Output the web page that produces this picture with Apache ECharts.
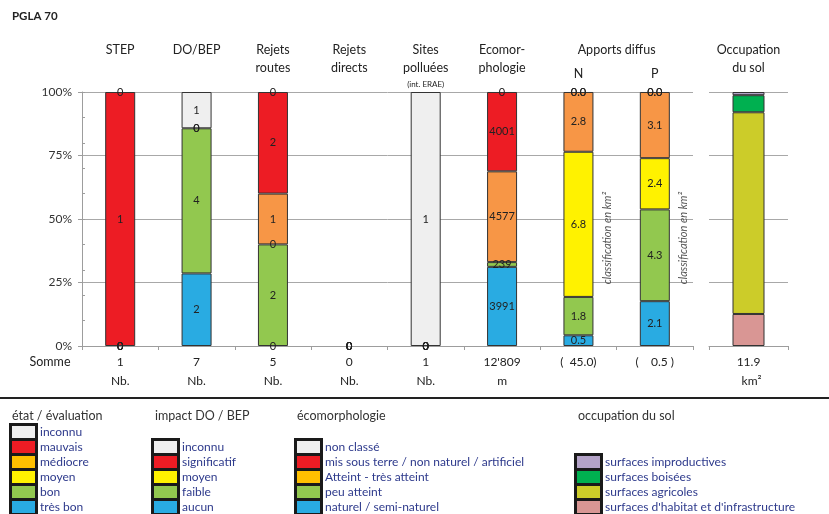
<!DOCTYPE html>
<html>
<head>
<meta charset="utf-8">
<script src="https://cdn.jsdelivr.net/npm/echarts@6/dist/echarts.min.js"></script>
<style>
  html, body { margin: 0; padding: 0; background: #fff; }
  #chart { width: 829px; height: 514px; }
</style>
</head>
<body>
<div id="chart"></div>
<script>
// ---- Données ----
const categories = ['STEP', 'DO/BEP', 'Rejets routes', 'Rejets directs', 'Sites polluées', 'Ecomorphologie', 'N', 'P'];
const titleLines = [['STEP'], ['DO/BEP'], ['Rejets', 'routes'], ['Rejets', 'directs'], ['Sites', 'polluées'], ['Ecomor-', 'phologie'], ['N'], ['P']];

// classes empilées, de bas en haut
const tresBon  = [0, 2, 0, 0, 0, 3991, 0.5, 2.1];
const bon      = [0, 4, 2, 0, 0, 239, 1.8, 4.3];
const moyen    = [0, 0, 0, 0, 0, null, 6.8, 2.4];
const mediocre = [0, null, 1, 0, 0, 4577, 2.8, 3.1];
const mauvais  = [1, 0, 2, 0, 0, 4001, 0.0, 0.0];
const inconnu  = [0, 1, 0, 0, 1, 0, 0.0, 0.0];
const decimals = [0, 0, 0, 0, 0, 0, 1, 1];

const sommeLabels = ['1', '7', '5', '0', '1', "12'809", '(  45.0)', '(    0.5 )'];
const unites = ['Nb.', 'Nb.', 'Nb.', 'Nb.', 'Nb.', 'm', '', ''];

// occupation du sol (km²)
const solCategories = ['Occupation du sol'];
const solHabitat = [1.5];
const solAgricole = [9.45];
const solBoise = [0.8];
const solImproductif = [0.15];
const solSomme = ['11.9'];
const solUnite = ['km²'];

const yTicks = [0, 25, 50, 75, 100];

// ---- Couleurs ----
const C = {
  inconnu: '#EFEFEF', mauvais: '#ED1C24', mediocreBar: '#F79646', mediocreLeg: '#FFC000',
  moyen: '#FFF200', bon: '#92C84F', tresBon: '#29ABE2',
  improductif: '#B3A2C7', boise: '#00B050', agricole: '#CCCC29', habitat: '#D99694'
};

const FONT = 'Lato, "Open Sans", sans-serif';

const classes = [
  { name: 'très bon', data: tresBon, color: C.tresBon },
  { name: 'bon', data: bon, color: C.bon },
  { name: 'moyen', data: moyen, color: C.moyen },
  { name: 'médiocre', data: mediocre, color: C.mediocreBar },
  { name: 'mauvais', data: mauvais, color: C.mauvais },
  { name: 'inconnu', data: inconnu, color: C.inconnu }
];

// totaux par colonne pour l'empilement en pourcentage
const totals = categories.map((_, i) =>
  classes.reduce((s, c) => s + (c.data[i] == null ? 0 : c.data[i]), 0));
const pct = (v, t) => (v == null ? '-' : (t > 0 ? Math.round(v / t * 1e6) / 1e4 : 0));

const solClasses = [
  { name: "surfaces d'habitat", data: solHabitat, color: C.habitat },
  { name: 'surfaces agricoles', data: solAgricole, color: C.agricole },
  { name: 'surfaces boisées', data: solBoise, color: C.boise },
  { name: 'surfaces improductives', data: solImproductif, color: C.improductif }
];
const solTotals = solCategories.map((_, i) => solClasses.reduce((s, c) => s + c.data[i], 0));

const axisGray = '#9d9d9d';

const series = classes.map(c => ({
  name: c.name,
  type: 'bar',
  stack: 'etat',
  xAxisIndex: 0,
  yAxisIndex: 0,
  barWidth: 30,
  clip: false,
  data: c.data.map((v, i) => {
    const p = pct(v, totals[i]);
    // segments vides : pas de contour, seule l'étiquette reste
    return p === 0 ? { value: 0, itemStyle: { borderWidth: 0, opacity: 0 } } : p;
  }),
  itemStyle: { color: c.color, borderColor: '#333', borderWidth: 1 },
  label: {
    show: true,
    position: 'inside',
    fontFamily: FONT,
    fontSize: 11,
    color: '#222',
    opacity: 1,
    formatter: p => {
      const raw = c.data[p.dataIndex];
      return raw == null ? '' : raw.toFixed(decimals[p.dataIndex]);
    }
  },
  emphasis: { disabled: true },
  animation: false
})).concat(solClasses.map(c => ({
  name: c.name,
  type: 'bar',
  stack: 'sol',
  xAxisIndex: 1,
  yAxisIndex: 2,
  barWidth: 32,
  data: c.data.map((v, i) => Math.round(v / solTotals[i] * 1e6) / 1e4),
  itemStyle: { color: c.color, borderColor: '#333', borderWidth: 1 },
  emphasis: { disabled: true },
  animation: false
})));

const chart = echarts.init(document.getElementById('chart'), null, { renderer: 'canvas' });

chart.setOption({
  animation: false,
  grid: [
    { left: 82, top: 92, width: 611, height: 254 },
    { left: 709, top: 92, width: 79, height: 254 }
  ],
  xAxis: [
    {
      type: 'category', gridIndex: 0, data: categories,
      axisLine: { lineStyle: { color: axisGray } },
      axisTick: { show: true, length: 4, lineStyle: { color: axisGray } },
      axisLabel: {
        margin: 7, interval: 0, fontFamily: FONT, fontSize: 12, color: '#222', lineHeight: 19,
        formatter: (v, i) => sommeLabels[i] + (unites[i] ? '\n' + unites[i] : '')
      }
    },
    {
      type: 'category', gridIndex: 1, data: solCategories,
      axisLine: { lineStyle: { color: axisGray } },
      axisTick: { show: true, length: 4, lineStyle: { color: axisGray } },
      axisLabel: {
        margin: 7, fontFamily: FONT, fontSize: 12, color: '#222', lineHeight: 19,
        formatter: (v, i) => solSomme[i] + '\n  ' + solUnite[i]
      }
    }
  ],
  yAxis: [
    {
      type: 'value', gridIndex: 0, min: yTicks[0], max: yTicks[yTicks.length - 1], interval: 25,
      axisLine: { show: true, lineStyle: { color: axisGray } },
      axisTick: { show: true, length: 4, lineStyle: { color: axisGray } },
      axisLabel: { margin: 10, fontFamily: FONT, fontSize: 12, color: '#333', formatter: '{value}%' },
      splitLine: { lineStyle: { color: '#a8a8a8', width: 1 } }
    },
    {
      type: 'value', gridIndex: 0, min: 0, max: 100, interval: 10, position: 'left',
      axisLine: { show: false },
      axisTick: { show: true, inside: true, length: 3, lineStyle: { color: axisGray } },
      axisLabel: { show: false },
      splitLine: { show: false }
    },
    {
      type: 'value', gridIndex: 1, min: 0, max: 100, interval: 25,
      axisLine: { show: false },
      axisTick: { show: false },
      axisLabel: { show: false },
      splitLine: { lineStyle: { color: '#a8a8a8', width: 1 } }
    }
  ],
  series: series
});

// ---- Textes, séparateur et légendes ----
const g = [];
const txt = (x, y, text, opt = {}) => g.push({
  type: 'text', x, y, silent: true, rotation: opt.rotation || 0,
  style: {
    text, fontFamily: FONT, fontSize: opt.size || 12.5, fill: opt.color || '#222',
    fontWeight: opt.weight || 'normal', fontStyle: opt.style || 'normal',
    align: opt.align || 'center', verticalAlign: 'middle'
  }
});

txt(12, 16, 'PGLA 70', { align: 'left', weight: 'bold', size: 11.5 });

const cx = i => chart.convertToPixel({ xAxisIndex: 0 }, categories[i]);
titleLines.forEach((lines, i) => {
  const isNP = i >= 6;
  lines.forEach((l, k) => txt(cx(i), (isNP ? 74 : 50) + k * 18, l));
});
txt(cx(4), 84, '(int. ERAE)', { size: 8 });
txt((cx(6) + cx(7)) / 2, 50, 'Apports diffus');
const solX = chart.convertToPixel({ xAxisIndex: 1 }, solCategories[0]);
txt(solX, 50, 'Occupation');
txt(solX, 68, 'du sol');

// annotations verticales à côté des colonnes N et P
const yMid = chart.convertToPixel({ yAxisIndex: 0 }, 42.5);
[6, 7].forEach(i => txt(cx(i) + 29, yMid, 'classification en km²',
  { rotation: Math.PI / 2, style: 'italic', size: 11, color: '#555' }));

txt(50, 362, 'Somme', { size: 12.5 });

g.push({ type: 'line', silent: true, shape: { x1: 0, y1: 398, x2: 829, y2: 398 },
  style: { stroke: '#222', lineWidth: 2 } });

const legendColor = '#2E3A8C';
const legendGroups = [
  { title: 'état / évaluation', x: 12, swX: 10, start: 0,
    items: [['inconnu', C.inconnu], ['mauvais', C.mauvais], ['médiocre', C.mediocreLeg],
            ['moyen', C.moyen], ['bon', C.bon], ['très bon', C.tresBon]] },
  { title: 'impact DO / BEP', x: 155, swX: 152, start: 1,
    items: [['inconnu', C.inconnu], ['significatif', C.mauvais], ['moyen', C.moyen],
            ['faible', C.bon], ['aucun', C.tresBon]] },
  { title: 'écomorphologie', x: 297, swX: 295, start: 1,
    items: [['non classé', C.inconnu], ['mis sous terre / non naturel / artificiel', C.mauvais],
            ['Atteint - très atteint', C.mediocreLeg], ['peu atteint', C.bon],
            ['naturel / semi-naturel', C.tresBon]] },
  { title: 'occupation du sol', x: 578, swX: 575, start: 2,
    items: [['surfaces improductives', C.improductif], ['surfaces boisées', C.boise],
            ['surfaces agricoles', C.agricole], ["surfaces d'habitat et d'infrastructure", C.habitat]] }
];
legendGroups.forEach(grp => {
  txt(grp.x, 416, grp.title, { align: 'left', color: '#333' });
  const y0 = 432 + grp.start * 15;
  g.push({ type: 'rect', silent: true,
    shape: { x: grp.swX - 1, y: y0 - 9, width: 29, height: 15 * grp.items.length + 6 },
    style: { fill: '#1a1a1a' } });
  grp.items.forEach((it, k) => {
    const y = y0 + k * 15;
    g.push({ type: 'rect', silent: true,
      shape: { x: grp.swX + 2, y: y - 6, width: 23, height: 12 },
      style: { fill: it[1] } });
    txt(grp.swX + 30, y, it[0], { align: 'left', size: 12, color: legendColor });
  });
});

chart.setOption({ graphic: g });
</script>
</body>
</html>
